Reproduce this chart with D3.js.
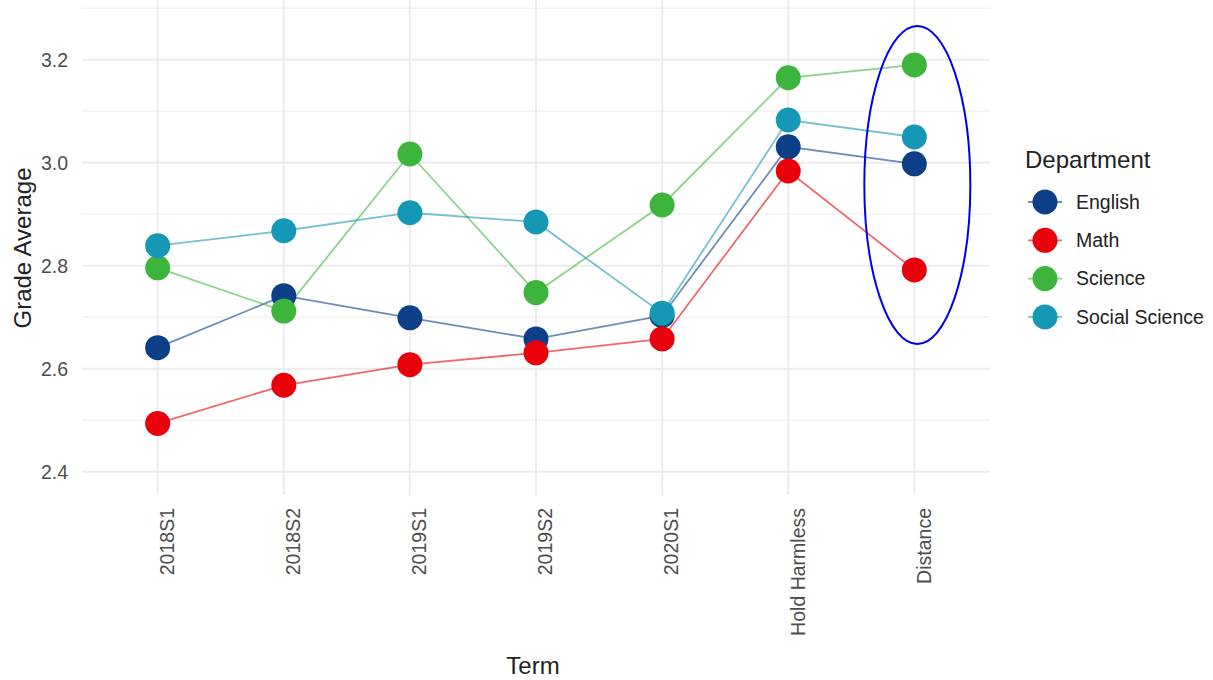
<!DOCTYPE html>
<html><head><meta charset="utf-8">
<script src="https://cdn.jsdelivr.net/npm/d3@7/dist/d3.min.js"></script>
<style>body{margin:0;background:#fff;}text{font-family:"Liberation Sans",Arial,sans-serif;}</style>
</head><body>
<svg id="chart" width="1213" height="680"></svg>
<script>
const terms = ["2018S1","2018S2","2019S1","2019S2","2020S1","Hold Harmless","Distance"];
const departments = ["English","Math","Science","Social Science"];
const english = [2.641,2.742,2.699,2.658,2.703,3.031,2.998];
const math = [2.494,2.568,2.608,2.631,2.658,2.984,2.792];
const science = [2.796,2.712,3.017,2.748,2.918,3.165,3.190];
const socialScience = [2.839,2.868,2.903,2.885,2.708,3.083,3.050];
const yTicks = [2.4,2.6,2.8,3.0,3.2];
const colors = ["#0c3f88","#e8000b","#3db53c","#1597b6"];

const seriesValues = [english, math, science, socialScience];
const svg = d3.select("#chart");
const x = d3.scalePoint().domain(terms).range([82,990]).padding(0.6);
const y = d3.scaleLinear().domain([2.355,3.316]).range([495,0]);

// minor grid
const minor = d3.range(2.5,3.31,0.2).map(v=>+v.toFixed(1));
svg.append("g").selectAll("line").data(minor).join("line")
  .attr("x1",82).attr("x2",990).attr("y1",d=>y(d)).attr("y2",d=>y(d))
  .attr("stroke","#f3f3f3").attr("stroke-width",1.5);
// major grid
svg.append("g").selectAll("line").data(yTicks).join("line")
  .attr("x1",82).attr("x2",990).attr("y1",d=>y(d)).attr("y2",d=>y(d))
  .attr("stroke","#ececec").attr("stroke-width",2);
svg.append("g").selectAll("line").data(terms).join("line")
  .attr("x1",d=>x(d)).attr("x2",d=>x(d)).attr("y1",0).attr("y2",495)
  .attr("stroke","#ececec").attr("stroke-width",2);

// y axis
const yAxis = svg.append("g").attr("transform","translate(80,0)")
  .call(d3.axisLeft(y).tickValues(yTicks).tickFormat(d3.format(".1f")).tickSize(0).tickPadding(12));
yAxis.select(".domain").remove();
yAxis.selectAll("text").attr("font-size",19.5).attr("fill","#4d4d4d").attr("font-family","Liberation Sans, Arial, sans-serif");

// x axis
const xAxis = svg.append("g").attr("transform","translate(0,496)")
  .call(d3.axisBottom(x).tickSize(0).tickPadding(0));
xAxis.select(".domain").remove();
xAxis.selectAll("text").attr("font-size",19.5).attr("fill","#4d4d4d")
  .attr("font-family","Liberation Sans, Arial, sans-serif")
  .attr("transform","rotate(-90)").attr("text-anchor","end")
  .attr("x",-12).attr("y",9).attr("dy","0.35em");

// titles
svg.append("text").attr("x",533).attr("y",674).attr("text-anchor","middle")
  .attr("font-size",24).attr("fill","#222").text("Term");
svg.append("text").attr("transform","translate(31,248) rotate(-90)").attr("text-anchor","middle")
  .attr("font-size",24).attr("fill","#222").text("Grade Average");

// lines
const line = d3.line().x((d,i)=>x(terms[i])).y(d=>y(d));
seriesValues.forEach((vals,k)=>{
  svg.append("path").datum(vals).attr("d",line).attr("fill","none")
    .attr("stroke",colors[k]).attr("stroke-opacity",0.6).attr("stroke-width",1.8);
});
// points
seriesValues.forEach((vals,k)=>{
  svg.append("g").selectAll("circle").data(vals).join("circle")
    .attr("cx",(d,i)=>x(terms[i])).attr("cy",d=>y(d)).attr("r",12.5)
    .attr("fill",colors[k]);
});

// legend
svg.append("text").attr("x",1025).attr("y",168).attr("font-size",24).attr("fill","#222").text("Department");
const lg = svg.append("g").selectAll("g").data(departments).join("g")
  .attr("transform",(d,i)=>`translate(1045,${202+i*38.3})`);
lg.append("line").attr("x1",-17).attr("x2",17).attr("stroke",(d,i)=>colors[i]).attr("stroke-opacity",0.6).attr("stroke-width",1.8);
lg.append("circle").attr("r",12.5).attr("fill",(d,i)=>colors[i]);
lg.append("text").attr("x",31).attr("dy","0.35em").attr("font-size",19.5).attr("fill","#222").text(d=>d);

// annotation ellipse
svg.append("ellipse").attr("cx",x("Distance")+3).attr("cy",185).attr("rx",53).attr("ry",159)
  .attr("fill","none").attr("stroke","#0000ee").attr("stroke-width",2);
</script>
</body></html>
